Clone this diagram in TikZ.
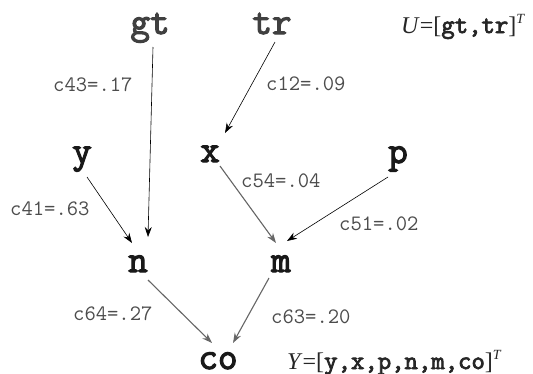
\documentclass[tikz,border=0pt]{standalone}
\usepackage{fontspec}
\setmainfont{Liberation Serif}
\newfontfamily\heavytt{Latin Modern Mono}[FakeBold=3]
\usetikzlibrary{arrows.meta}
\tikzset{
  var/.style={inner sep=0pt, anchor=base, font=\heavytt\fontsize{38}{38}\selectfont, text=black!90},
  inp/.style={var, text=black!75},
  coef/.style={inner sep=0pt, anchor=base west, font=\ttfamily\fontsize{22}{22}\selectfont, text=black!70},
  eqn/.style={inner sep=0pt, anchor=base west, font=\fontsize{24}{24}\selectfont, text=black!85},
  arr/.style={-{Stealth[length=10pt,width=7pt]}, line width=0.6pt, black},
  arrg/.style={-{Stealth[length=10pt,width=7pt]}, line width=1.1pt, black!60},
}
\newcommand{\cb}[1]{{\heavytt\fontsize{26}{26}\selectfont #1}}
\begin{document}
\begin{tikzpicture}[x=1pt,y=-1pt]
\useasboundingbox[fill=white] (0,0) rectangle (533,373);
% variables
\node[inp] (gt) at (150,34) {gt};
\node[inp] (tr) at (272,34) {tr};
\node[var] (y) at (82,163) {y};
\node[var] (x) at (210,162) {x};
\node[var] (p) at (398,163) {p};
\node[var] (n) at (138,272) {n};
\node[var] (m) at (281,272) {m};
\node[var] (co) at (218,369) {co};
% coefficient labels
\node[coef] (c43) at (53,91) {c43=.17};
\node[coef] (c12) at (266,90) {c12=.09};
\node[coef] (c54) at (241,187) {c54=.04};
\node[coef] (c41) at (10,215) {c41=.63};
\node[coef] (c51) at (339,230) {c51=.02};
\node[coef] (c64) at (73,320) {c64=.27};
\node[coef] (c63) at (271,323) {c63=.20};
% vectors
\node[eqn] (U) at (401,33) {\textit{U}=[\cb{gt,tr}]$^{\textit{\fontsize{14}{14}\selectfont T}}$};
\node[eqn] (Y) at (287,369) {\textit{Y}=[\cb{y,x,p,n,m,co}]$^{\textit{\fontsize{14}{14}\selectfont T}}$};
% connectors
\draw[arr] ([shift={(3,13)}]gt.base) -- ([shift={(10,-35)}]n.base);
\draw[arr] ([shift={(3,8)}]tr.base) -- ([shift={(15,-29)}]x.base);
\draw[arr] ([shift={(5,14)}]y.base) -- ([shift={(-6,-29)}]n.base);
\draw[arrg] ([shift={(10,4)}]x.base) -- ([shift={(-5,-29)}]m.base);
\draw[arr] ([shift={(-10,14)}]p.base) -- ([shift={(6,-31)}]m.base);
\draw[arrg] ([shift={(10,8)}]n.base) -- ([shift={(-6,-26)}]co.base);
\draw[arrg] ([shift={(-12,6)}]m.base) -- ([shift={(15,-26)}]co.base);
\end{tikzpicture}
\end{document}
